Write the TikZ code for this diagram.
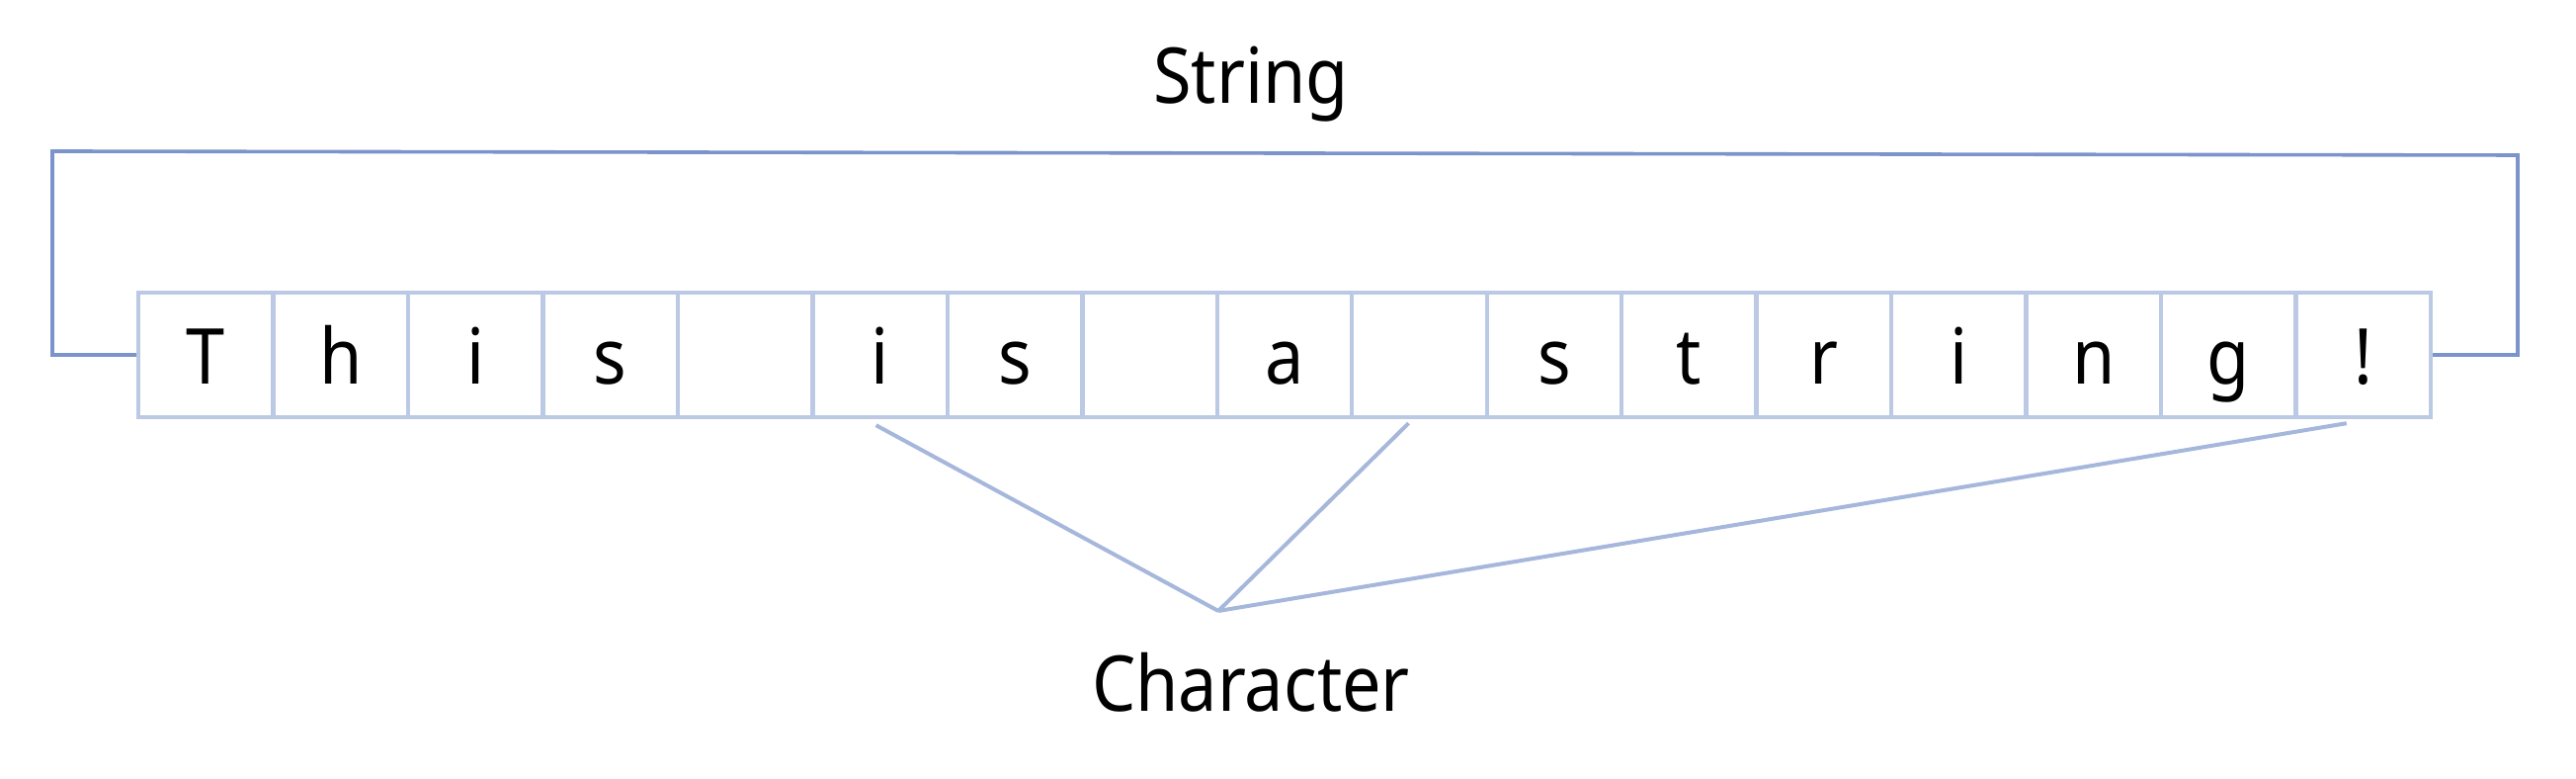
\documentclass[tikz,border=0pt]{standalone}
\usepackage{fontspec}
\setmainfont[FakeStretch=0.9]{Noto Sans}
\definecolor{bracketblue}{HTML}{7B94CB}
\definecolor{boxblue}{HTML}{BCC9E5}
\definecolor{connblue}{HTML}{A6B7DC}
\begin{document}
\begin{tikzpicture}[x=0.25pt,y=-0.25pt,
  cell/.style={draw=boxblue, line width=1.1pt, rectangle, inner sep=0pt,
    minimum width=34.12pt, minimum height=31.5pt,
    text height=16pt, text depth=1pt,
    font=\fontsize{19.5}{22}\selectfont},
  lbl/.style={anchor=base, inner sep=0pt, font=\fontsize{19.5}{23}\selectfont},
  bracket/.style={draw=bracketblue, line width=0.9pt},
  conn/.style={draw=connblue, line width=1pt}]
\useasboundingbox (0,0) rectangle (2607,788);
\foreach \c [count=\i] in {T,h,i,s,{},i,s,{},a,{},s,t,r,i,n,g,!}{
  \node[cell] (b\i) at ({140+136.47*(\i-0.5)},359) {\c};
}
\node[lbl] (str) at (1266,105) {String};
\node[lbl] (chr) at (1266,720) {Character};
\coordinate (lt) at (53,153);
\coordinate (rt) at (2548,157);
\coordinate (apex) at (1233,618);
\draw[bracket] (b1.west) -- (lt |- b1.west) -- (lt) -- (rt) -- (rt |- b17.east) -- (b17.east);
\draw[conn] ([yshift=-1.5pt,xshift=-1pt]b6.south) -- (apex);
\draw[conn] ([yshift=-1pt,xshift=-2.75pt]b10.south) -- (apex);
\draw[conn] ([yshift=-1pt,xshift=-4.25pt]b17.south) -- (apex);
\end{tikzpicture}
\end{document}
